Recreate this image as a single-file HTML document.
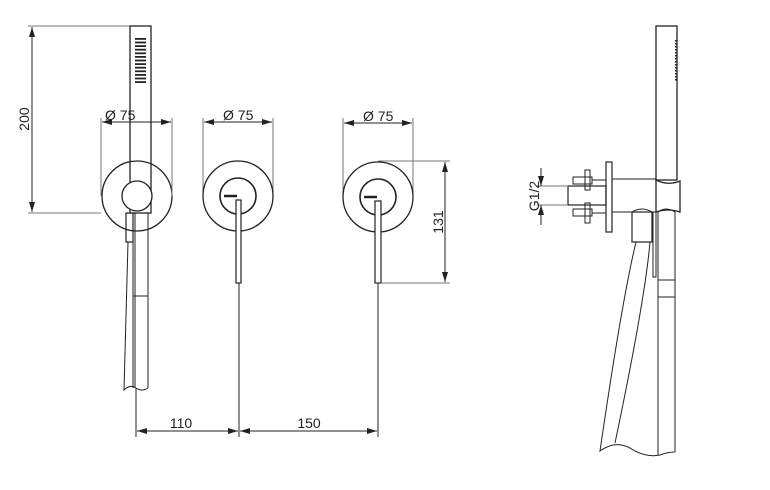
<!DOCTYPE html>
<html><head><style>html,body{margin:0;padding:0;background:#fff}svg{display:block}text{font-family:"Liberation Sans",sans-serif;font-size:14px;fill:#222}</style></head>
<body>
<svg width="770" height="490" viewBox="0 0 770 490" xmlns="http://www.w3.org/2000/svg">
<defs>
<marker id="a" viewBox="0 0 10 6" refX="10" refY="3" markerWidth="10" markerHeight="6" orient="auto-start-reverse" markerUnits="userSpaceOnUse"><path d="M0,0L10,3L0,6z" fill="#222"/></marker>
</defs>
<g fill="none" stroke="#222" stroke-width="1">
<line x1="28" y1="26" x2="150" y2="26" stroke="#777"/>
<line x1="28" y1="213" x2="101" y2="213" stroke="#777"/>
<line x1="32" y1="27" x2="32" y2="212" marker-start="url(#a)" marker-end="url(#a)"/>
<rect x="130" y="26" width="21" height="187" stroke-width="1.3"/>
<circle cx="137" cy="196" r="35" stroke-width="1.3"/>
<circle cx="137" cy="196" r="15" stroke-width="1.3" fill="#fff"/>
<rect x="126" y="213" width="7" height="29" stroke-width="1.2"/>
<path d="M133,213 V388 M148,213 V388 M135,213 V388 M133,296 H148" />
<path d="M128,242 L124,390 Q130,384 136,388 Q142,392 148,388" />
<line x1="101" y1="118" x2="101" y2="196" stroke="#777"/>
<line x1="172" y1="118" x2="172" y2="196" stroke="#777"/>
<line x1="102" y1="122" x2="171" y2="122" marker-start="url(#a)" marker-end="url(#a)"/>
<line x1="203" y1="118" x2="203" y2="196" stroke="#777"/>
<line x1="273" y1="118" x2="273" y2="196" stroke="#777"/>
<line x1="204" y1="122" x2="272" y2="122" marker-start="url(#a)" marker-end="url(#a)"/>
<line x1="343" y1="118" x2="343" y2="197" stroke="#777"/>
<line x1="413" y1="118" x2="413" y2="197" stroke="#777"/>
<line x1="344" y1="123" x2="412" y2="123" marker-start="url(#a)" marker-end="url(#a)"/>
<circle cx="238" cy="196" r="35" stroke-width="1.3"/>
<circle cx="238" cy="196" r="18" stroke-width="1.6"/>
<line x1="224" y1="196" x2="237" y2="196" stroke-width="2.5"/>
<rect x="236" y="200" width="5" height="83" stroke-width="1.2" fill="#fff"/>
<line x1="239" y1="283" x2="239" y2="437"/>
<circle cx="378" cy="197" r="35" stroke-width="1.3"/>
<circle cx="378" cy="197" r="18" stroke-width="1.6"/>
<line x1="364" y1="197" x2="377" y2="197" stroke-width="2.5"/>
<rect x="375" y="201" width="6" height="82" stroke-width="1.2" fill="#fff"/>
<line x1="378" y1="283" x2="378" y2="437"/>
<line x1="378" y1="161" x2="450" y2="161" stroke="#777"/>
<line x1="382" y1="283" x2="450" y2="283" stroke="#777"/>
<line x1="445" y1="162" x2="445" y2="282" marker-start="url(#a)" marker-end="url(#a)"/>
<line x1="136" y1="388" x2="136" y2="437"/>
<line x1="137" y1="431" x2="238" y2="431" marker-start="url(#a)" marker-end="url(#a)"/>
<line x1="240" y1="431" x2="377" y2="431" marker-start="url(#a)" marker-end="url(#a)"/>
<rect x="656" y="26" width="21" height="154" stroke-width="1.3"/>
<line x1="676" y1="40" x2="676" y2="82" stroke-width="2" stroke-dasharray="1.5,1.5"/>
<path d="M656,180 Q668,186 680,181 V212 Q668,208 656,212 Z" stroke-width="1.3"/>
<line x1="612" y1="179" x2="656" y2="179"/>
<line x1="612" y1="212" x2="633" y2="212"/>
<rect x="606" y="162" width="6" height="70" stroke-width="1.2"/>
<rect x="568" y="186" width="38" height="19" stroke-width="1.2"/>
<rect x="573" y="177" width="19" height="7"/>
<rect x="573" y="209" width="19" height="7"/>
<rect x="585" y="170" width="5" height="20"/>
<rect x="585" y="203" width="5" height="20"/>
<line x1="592" y1="180" x2="606" y2="180"/>
<line x1="592" y1="213" x2="606" y2="213"/>
<rect x="632" y="212" width="20" height="30" stroke-width="1.2"/>
<path d="M632,212 Q642,206 652,212" />
<rect x="653" y="212" width="3" height="65"/>
<path d="M658,212 V455 M675,212 V452 M658,280 H675 M658,297 H675" />
<path d="M658,212 Q666,206 675,212" />
<path d="M636,242 Q622,300 600,451 Q615,440 630,448 Q645,458 660,455 Q668,452 675,452" />
<path d="M650,242 Q645,300 615,443" />
<line x1="537" y1="186" x2="568" y2="186" stroke="#777"/>
<line x1="537" y1="205" x2="568" y2="205" stroke="#777"/>
<line x1="541" y1="168" x2="541" y2="186" marker-end="url(#a)"/>
<line x1="541" y1="225" x2="541" y2="205" marker-end="url(#a)"/>
</g>
<g fill="#222">
<rect x="135" y="38" width="11" height="1.8"/><rect x="135" y="41.6" width="11" height="1.8"/><rect x="135" y="45.2" width="11" height="1.8"/><rect x="135" y="48.8" width="11" height="1.8"/><rect x="135" y="52.4" width="11" height="1.8"/><rect x="135" y="56" width="11" height="1.8"/><rect x="135" y="59.6" width="11" height="1.8"/><rect x="135" y="63.2" width="11" height="1.8"/><rect x="135" y="66.8" width="11" height="1.8"/><rect x="135" y="70.4" width="11" height="1.8"/><rect x="135" y="74" width="11" height="1.8"/><rect x="135" y="77.6" width="11" height="1.8"/><rect x="135" y="81.2" width="11" height="1.8"/>
</g>
<text x="24" y="119" text-anchor="middle" transform="rotate(-90 24 119)" dy="5">200</text>
<text x="105" y="120">Ø 75</text>
<text x="223" y="120">Ø 75</text>
<text x="363" y="121">Ø 75</text>
<text x="438" y="222" text-anchor="middle" transform="rotate(-90 438 222)" dy="5">131</text>
<text x="181" y="428" text-anchor="middle">110</text>
<text x="309" y="428" text-anchor="middle">150</text>
<text x="534" y="196" text-anchor="middle" transform="rotate(-90 534 196)" dy="5">G1/2</text>
</svg>
</body></html>
